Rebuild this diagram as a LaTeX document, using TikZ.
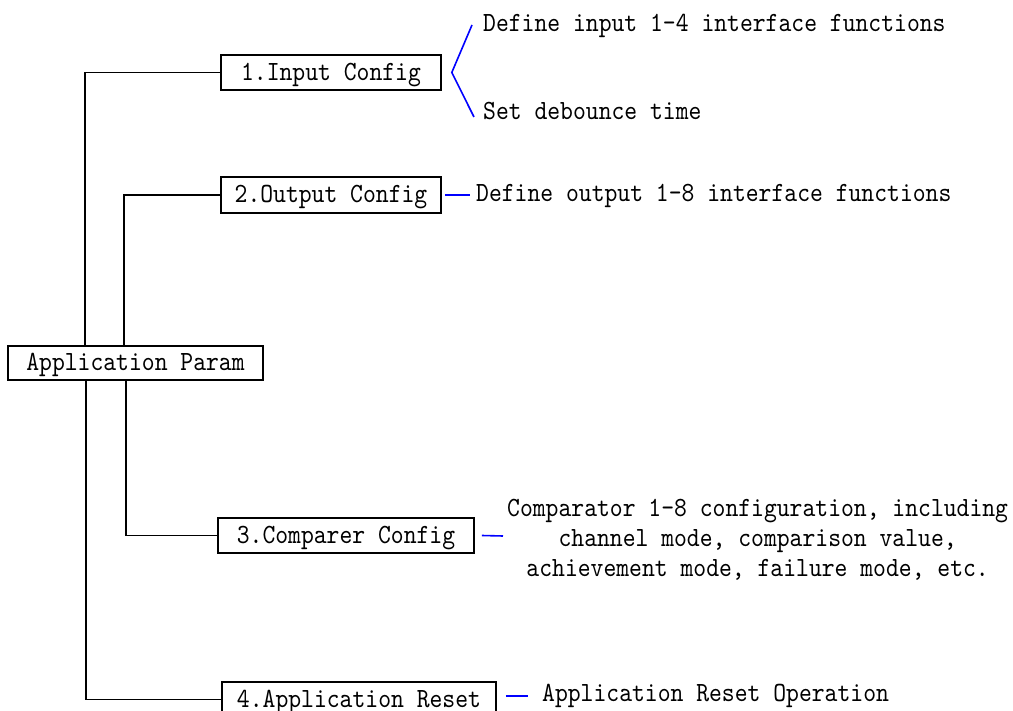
\documentclass[tikz,border=0pt]{standalone}
\usepackage{fontspec}
\setmonofont{lmmono10-regular.otf}[FakeStretch=0.88]
\begin{document}
\begin{tikzpicture}[x=1pt,y=-1pt,
	font=\ttfamily\fontsize{27.8}{30}\selectfont,
	box/.style={draw,line width=1.6,minimum height=35,inner sep=0,text height=16,text depth=0},
	note/.style={anchor=base west,inner sep=0},
	tree/.style={line width=1.6},
	tie/.style={line width=1.6,blue}]
		\clip (0,0) rectangle (1013,711);
		\node[box,minimum width=255,minimum height=34] (P) at (135.5,363) {Application Param};
		\node[box,minimum width=220] (I) at (331,72.5) {1.Input Config};
		\node[box,minimum width=220,minimum height=36] (O) at (331,195) {2.Output Config};
		\node[box,minimum width=256] (C) at (346,535.5) {3.Comparer Config};
		\node[box,minimum width=274] (R) at (359,699.5) {4.Application Reset};
		\node[note] (I1) at (483,32) {Define input 1-4 interface functions};
		\node[note] (I2) at (483,120) {Set debounce time};
		\node[note] (O1) at (476,202) {Define output 1-8 interface functions};
		\node[note,anchor=west,align=center] (C1) at (507,540) {Comparator 1-8 configuration, including\\channel mode, comparison value,\\achievement mode, failure mode, etc.};
		\node[note] (R1) at (542,701.7) {Application Reset Operation};
		\draw[tree] ([xshift=-50.5]P.north) |- (I.west);
		\draw[tree] ([xshift=-11.5]P.north) |- (O.west);
		\draw[tree] ([xshift=-9.5]P.south) |- (C.west);
		\draw[tree] ([xshift=-49.5]P.south) |- (R.west);
		\draw[tie] ([xshift=-11,yshift=7]I1.base west) -- ([xshift=10]I.east) -- ([xshift=-9,yshift=3]I2.base west);
		\draw[tie] ([xshift=3]O.east) -- ([xshift=-6,yshift=7]O1.base west);
		\draw[tie] ([xshift=7]C.east) -- ([xshift=-4,yshift=4]C1.west);
		\draw[tie] ([xshift=9,yshift=3.5]R.east) -- ([xshift=-14,yshift=5.7]R1.base west);
	\end{tikzpicture}
\end{document}
